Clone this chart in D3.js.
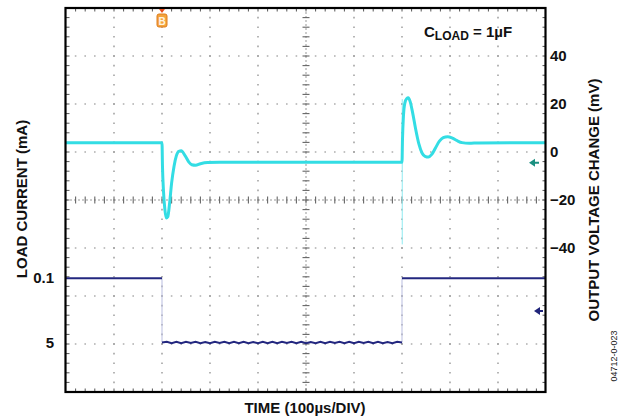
<!DOCTYPE html>
<html><head><meta charset="utf-8">
<script src="https://cdn.jsdelivr.net/npm/d3@7"></script>
<style>
html,body{margin:0;padding:0;background:#fff;}
svg{display:block;font-family:"Liberation Sans",Arial,Helvetica,sans-serif;}
</style></head>
<body>
<svg id="c" width="626" height="417"></svg>
<script>
// ---- data ----
const timeDomain = [0, 1000];          // µs (100 µs/div)
const voltDomain = [-100, 60];          // mV (20 mV/div)
const voltTickLabels = [40, 20, 0, -20, -40];
const currentTickLabels = [0.1, 5];     // mA

// output voltage change trace (cyan): time µs, mV
const vTime = [0, 200, 201, 203, 206, 209, 212, 216, 220, 225, 230, 235, 240, 248, 256, 262, 270, 280, 295, 320, 500, 700,
               701, 703, 706, 710, 713, 717, 722, 728, 735, 742, 748, 755, 762, 770, 778, 786, 795, 805, 815, 825, 840, 860, 1000];
const vValue = [3.9, 3.9, -6, -16, -24, -27.5, -27, -21, -13, -6, -1.5, 0.3, 0.5, -1.5, -4.2, -5.3, -5.5, -4.9, -4.4, -4.3, -4.3, -4.3,
               5, 15, 20.5, 22.3, 22.6, 21, 16.5, 10, 3.5, -0.5, -1.8, -2.1, -1, 1.8, 4.5, 6, 6.4, 5.8, 4.7, 3.9, 3.6, 3.8, 3.9];
// fast edge spike seen at the second step
const vSpikeTime = [700.5, 700.5];
const vSpikeValue = [22, -38.5];

// load current trace (navy): time µs, mA
const iTime = [0, 200, 200, 210, 220, 230, 240, 250, 260, 270, 280, 290, 300, 310, 320, 330, 340, 350, 360, 370, 380, 390, 400,
               410, 420, 430, 440, 450, 460, 470, 480, 490, 500, 510, 520, 530, 540, 550, 560, 570, 580, 590, 600,
               610, 620, 630, 640, 650, 660, 670, 680, 690, 700, 700, 1000];
const iValue = [0.1, 0.1, 5, 4.94, 5.05, 4.95, 5.06, 4.95, 5.04, 4.94, 5.05, 4.96, 5.06, 4.95, 5.04, 4.94, 5.06, 4.95, 5.05, 4.94, 5.05, 4.96, 5.05,
               4.95, 5.06, 4.94, 5.05, 4.95, 5.04, 4.95, 5.06, 4.94, 5.05, 4.96, 5.05, 4.94, 5.06, 4.95, 5.04, 4.95, 5.05, 4.94, 5.06,
               4.95, 5.04, 4.95, 5.06, 4.94, 5.05, 4.96, 5.05, 4.95, 5.0, 0.1, 0.1];

const triggerTime = 200;       // µs, trigger marker "B"
const ch1GroundMv = -4.5;      // cyan channel reference arrow
const ch2ArrowMa = 2.6;        // navy channel reference arrow

// ---- layout ----
const L = 66, R = 546, T = 8, B = 392;
const svg = d3.select("#c");
const x = d3.scaleLinear().domain(timeDomain).range([L, R]);
const yV = d3.scaleLinear().domain(voltDomain).range([B, T]);
const yI = d3.scaleLinear().domain(currentTickLabels).range([278.3, 342.5]);

const minorX = (R - L) / 50, minorY = (B - T) / 40;

// grid
const g = svg.append("g");
const vGrid = d3.range(1, 10).filter(d => d !== 5).map(d => x(d * 100));
const hGrid = d3.range(1, 8).filter(d => d !== 4).map(d => T + d * 48);
g.selectAll("line.vg").data(vGrid).join("line")
  .attr("x1", d => d).attr("x2", d => d).attr("y1", T).attr("y2", B)
  .attr("stroke", "#858585").attr("stroke-width", 1.2)
  .attr("stroke-dasharray", `1.6 ${minorY - 1.6}`).attr("stroke-dashoffset", 0.8);
g.selectAll("line.hg").data(hGrid).join("line")
  .attr("y1", d => d).attr("y2", d => d).attr("x1", L).attr("x2", R)
  .attr("stroke", "#858585").attr("stroke-width", 1.2)
  .attr("stroke-dasharray", `1.6 ${minorX - 1.6}`).attr("stroke-dashoffset", 0.8);

// center cross with minor ticks
const cx = x(500), cy = T + 4 * 48;
g.append("line").attr("x1", L).attr("x2", R).attr("y1", cy).attr("y2", cy)
  .attr("stroke", "#999").attr("stroke-width", 1).attr("stroke-dasharray", "2 2");
g.append("line").attr("y1", T).attr("y2", B).attr("x1", cx).attr("x2", cx)
  .attr("stroke", "#999").attr("stroke-width", 1).attr("stroke-dasharray", "2 2");
g.selectAll("line.cxt").data(d3.range(1, 50)).join("line")
  .attr("x1", d => L + d * minorX).attr("x2", d => L + d * minorX)
  .attr("y1", cy - 3.5).attr("y2", cy + 3.5).attr("stroke", "#666").attr("stroke-width", 1.1);
g.selectAll("line.cyt").data(d3.range(1, 40)).join("line")
  .attr("y1", d => T + d * minorY).attr("y2", d => T + d * minorY)
  .attr("x1", cx - 3.5).attr("x2", cx + 3.5).attr("stroke", "#666").attr("stroke-width", 1.1);

// border ticks
const bt = svg.append("g").attr("stroke", "#555").attr("stroke-width", 1);
d3.range(1, 50).forEach(d => {
  const xx = L + d * minorX;
  bt.append("line").attr("x1", xx).attr("x2", xx).attr("y1", B).attr("y2", B - 3.5);
  bt.append("line").attr("x1", xx).attr("x2", xx).attr("y1", T).attr("y2", T + 3.5);
});
d3.range(1, 40).forEach(d => {
  const yy = T + d * minorY;
  bt.append("line").attr("y1", yy).attr("y2", yy).attr("x1", L).attr("x2", L + 3.5);
  bt.append("line").attr("y1", yy).attr("y2", yy).attr("x1", R).attr("x2", R - 3.5);
});

// traces
const vData = vTime.map((t, i) => [t, vValue[i]]);
const iData = iTime.map((t, i) => [t, iValue[i]]);
const lineV = d3.line().x(d => x(d[0])).y(d => yV(d[1])).curve(d3.curveMonotoneX);
const lineVL = d3.line().x(d => x(d[0])).y(d => yV(d[1]));
const lineI = d3.line().x(d => x(d[0])).y(d => yI(d[1]));

// split current trace into level segments and faint fast edges
const iSegs = [], iEdges = [];
let cur = [iData[0]];
for (let k = 1; k < iData.length; k++) {
  if (iData[k][0] === iData[k - 1][0]) {
    iSegs.push(cur); iEdges.push([iData[k - 1], iData[k]]); cur = [iData[k]];
  } else cur.push(iData[k]);
}
iSegs.push(cur);

svg.append("g").selectAll("path").data(iEdges).join("path")
  .attr("d", lineI).attr("fill", "none").attr("stroke", "#b9bde0").attr("stroke-width", 1);
svg.append("path").datum(vSpikeTime.map((t, i) => [t, vSpikeValue[i]]))
  .attr("d", lineVL).attr("fill", "none").attr("stroke", "#8feaf0").attr("stroke-width", 1);
svg.append("g").selectAll("path").data(iSegs).join("path")
  .attr("d", lineI).attr("fill", "none").attr("stroke", "#23277f").attr("stroke-width", 2);
svg.append("path").datum(vData).attr("d", lineV).attr("fill", "none")
  .attr("stroke", "#33dde4").attr("stroke-width", 3).attr("stroke-linejoin", "round");

// frame
svg.append("rect").attr("x", L - 0.5).attr("y", T).attr("width", R - L).attr("height", B - T)
  .attr("fill", "none").attr("stroke", "#000").attr("stroke-width", 2.2);

// trigger marker
const tx = x(triggerTime);
svg.append("path").attr("d", `M${tx - 3},${T + 1} L${tx + 3},${T + 1} L${tx},${T + 5} Z`).attr("fill", "#e8501e");
svg.append("rect").attr("x", tx - 5).attr("y", T + 6).attr("width", 10).attr("height", 13).attr("rx", 2)
  .attr("fill", "#f3a43c").attr("stroke", "#e07c1c").attr("stroke-width", 1);
svg.append("text").attr("x", tx).attr("y", T + 16.5).attr("text-anchor", "middle")
  .attr("font-size", 10).attr("font-weight", "bold").attr("fill", "#fff3e0").text("B");

// channel arrows
const a1y = yV(ch1GroundMv);
svg.append("path").attr("d", `M${R - 17},${a1y} L${R - 11},${a1y - 4} L${R - 11},${a1y - 1} L${R - 7},${a1y - 1} L${R - 7},${a1y + 1} L${R - 11},${a1y + 1} L${R - 11},${a1y + 4} Z`).attr("fill", "#1a8f80");
const a2y = yI(ch2ArrowMa);
svg.append("path").attr("d", `M${R - 12},${a2y} L${R - 6},${a2y - 4} L${R - 6},${a2y - 1} L${R - 3},${a2y - 1} L${R - 3},${a2y + 1} L${R - 6},${a2y + 1} L${R - 6},${a2y + 4} Z`).attr("fill", "#20247a");

// right axis labels
const fmtV = d => (d < 0 ? "\u2212" + Math.abs(d) : String(d));
svg.append("g").selectAll("text").data(voltTickLabels).join("text")
  .attr("x", 550).attr("y", d => yV(d) + 5).attr("font-size", 15).attr("font-weight", "bold")
  .attr("fill", "#111").text(fmtV);

// left axis labels
svg.append("g").selectAll("text").data(currentTickLabels).join("text")
  .attr("x", 54).attr("y", d => yI(d) + 5).attr("text-anchor", "end").attr("font-size", 15)
  .attr("font-weight", "bold").attr("fill", "#111").text(d => String(d));

// titles
svg.append("text").attr("transform", "translate(27,199) rotate(-90)").attr("text-anchor", "middle")
  .attr("font-size", 15).attr("font-weight", "bold").attr("fill", "#111").text("LOAD CURRENT (mA)");
svg.append("text").attr("transform", "translate(599,200) rotate(-90)").attr("text-anchor", "middle")
  .attr("font-size", 15).attr("font-weight", "bold").attr("fill", "#111").text("OUTPUT VOLTAGE CHANGE (mV)");
svg.append("text").attr("x", 305).attr("y", 413).attr("text-anchor", "middle")
  .attr("font-size", 15).attr("font-weight", "bold").attr("fill", "#111").text("TIME (100\u00b5s/DIV)");
const cl = svg.append("text").attr("x", 424).attr("y", 37).attr("font-size", 15).attr("font-weight", "bold").attr("fill", "#111");
cl.append("tspan").text("C");
cl.append("tspan").attr("font-size", 12).attr("dy", 3).text("LOAD");
cl.append("tspan").attr("dy", -3).text(" = 1\u00b5F");
svg.append("text").attr("transform", "translate(617,356) rotate(-90)").attr("text-anchor", "middle")
  .attr("font-size", 9).attr("fill", "#222").text("04712-0-023");
</script>
</body></html>
